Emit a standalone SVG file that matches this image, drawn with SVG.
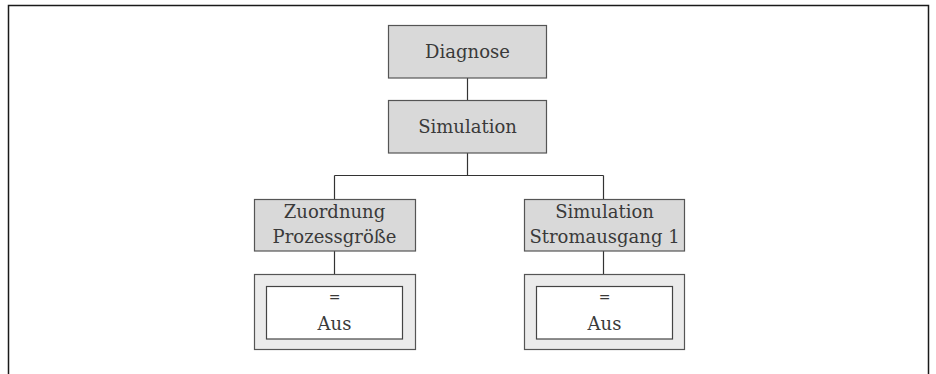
<svg xmlns="http://www.w3.org/2000/svg" width="936" height="374" viewBox="0 0 936 374">
<style>
.frame{fill:none;stroke:#1a1a1a;stroke-width:1.5}
.box{fill:#d9d9d9;stroke:#555;stroke-width:1.2}
.vbox{fill:#ebebeb;stroke:#555;stroke-width:1.2}
.inner{fill:#fff;stroke:#444;stroke-width:1.2}
.conn{fill:none;stroke:#333;stroke-width:1.2}
text{font-family:"DejaVu Serif","Liberation Serif",serif;font-size:18px;fill:#3a3a3a;text-anchor:middle}
</style>
<rect width="936" height="374" fill="#fff"/>
<path class="frame" d="M8.5,380 V5.5 H928.5 V380"/>
<g id="connectors">
<line class="conn" x1="467.5" y1="78" x2="467.5" y2="100"/>
<line class="conn" x1="467.5" y1="153" x2="467.5" y2="175.5"/>
<line class="conn" x1="334.5" y1="175.5" x2="603.5" y2="175.5"/>
<line class="conn" x1="334.5" y1="175.5" x2="334.5" y2="199"/>
<line class="conn" x1="603.5" y1="175.5" x2="603.5" y2="199"/>
<line class="conn" x1="334.5" y1="251" x2="334.5" y2="274"/>
<line class="conn" x1="603.5" y1="251" x2="603.5" y2="274"/>
</g>
<g id="diagnose">
<rect class="box" x="388.5" y="25.5" width="158" height="52.5"/>
<text x="467.5" y="57.5">Diagnose</text>
</g>
<g id="simulation">
<rect class="box" x="388.5" y="100.5" width="158" height="52.5"/>
<text x="467.5" y="132.5">Simulation</text>
</g>
<g id="zuordnung">
<rect class="box" x="254.5" y="199.5" width="161" height="51.5"/>
<text x="334.5" y="217.5">Zuordnung</text>
<text x="334.5" y="243">Prozessgröße</text>
</g>
<g id="simstrom">
<rect class="box" x="524.5" y="199.5" width="160" height="51.5"/>
<text x="604.5" y="217.5">Simulation</text>
<text x="604.5" y="243">Stromausgang 1</text>
</g>
<g id="value1">
<rect class="vbox" x="254.5" y="274.5" width="161" height="75"/>
<rect class="inner" x="266.5" y="286.5" width="136" height="52.5"/>
<text x="334.5" y="302" style="font-size:14px">=</text>
<text x="334.5" y="329.5">Aus</text>
</g>
<g id="value2">
<rect class="vbox" x="524.5" y="274.5" width="160" height="75"/>
<rect class="inner" x="536.5" y="286.5" width="136" height="52.5"/>
<text x="604.5" y="302" style="font-size:14px">=</text>
<text x="604.5" y="329.5">Aus</text>
</g>
</svg>
